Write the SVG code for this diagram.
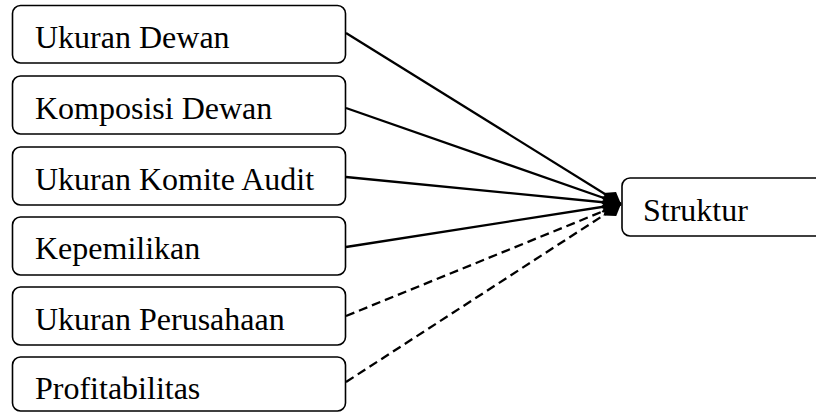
<svg xmlns="http://www.w3.org/2000/svg" width="816" height="412" viewBox="0 0 816 412">
<style>
.box{fill:#fff;stroke:#000;stroke-width:1.6}
.lbl{font-family:"Liberation Serif","Times New Roman","DejaVu Serif",serif;font-size:32px;fill:#000}
.ln{stroke:#000;stroke-width:2.3;fill:none}
.dash{stroke-dasharray:9,5}
</style>
<defs>
<marker id="dia" markerUnits="userSpaceOnUse" markerWidth="24" markerHeight="18" viewBox="0 -9 24 18" refX="22" refY="0" orient="auto">
<path d="M1,0 L11.5,-7.5 L22,0 L11.5,7.5 Z" fill="#000"/>
</marker>
</defs>
<g id="connectors">
<line class="ln" x1="346" y1="33" x2="621" y2="204" marker-end="url(#dia)"/>
<line class="ln" x1="346" y1="108" x2="621" y2="204" marker-end="url(#dia)"/>
<line class="ln" x1="346" y1="177" x2="621" y2="204" marker-end="url(#dia)"/>
<line class="ln" x1="346" y1="247" x2="621" y2="204" marker-end="url(#dia)"/>
<line class="ln dash" x1="346" y1="316" x2="621" y2="204" marker-end="url(#dia)"/>
<line class="ln dash" x1="346" y1="382" x2="621" y2="204" marker-end="url(#dia)"/>
</g>
<g id="n1"><rect class="box" x="12.5" y="5.5" width="333" height="57.5" rx="8"/><text class="lbl" x="35" y="48">Ukuran Dewan</text></g>
<g id="n2"><rect class="box" x="12.5" y="76" width="333" height="58" rx="8"/><text class="lbl" x="35" y="119">Komposisi Dewan</text></g>
<g id="n3"><rect class="box" x="12.5" y="147" width="333" height="58" rx="8"/><text class="lbl" x="35" y="190">Ukuran Komite Audit</text></g>
<g id="n4"><rect class="box" x="12.5" y="217" width="333" height="58" rx="8"/><text class="lbl" x="35" y="259">Kepemilikan</text></g>
<g id="n5"><rect class="box" x="12.5" y="287" width="333" height="58" rx="8"/><text class="lbl" x="35" y="330">Ukuran Perusahaan</text></g>
<g id="n6"><rect class="box" x="12.5" y="357" width="333" height="54" rx="8"/><text class="lbl" x="35" y="399">Profitabilitas</text></g>
<g id="n7"><rect class="box" x="622" y="178" width="220" height="58" rx="8"/><text class="lbl" x="643" y="221">Struktur</text></g>
</svg>
